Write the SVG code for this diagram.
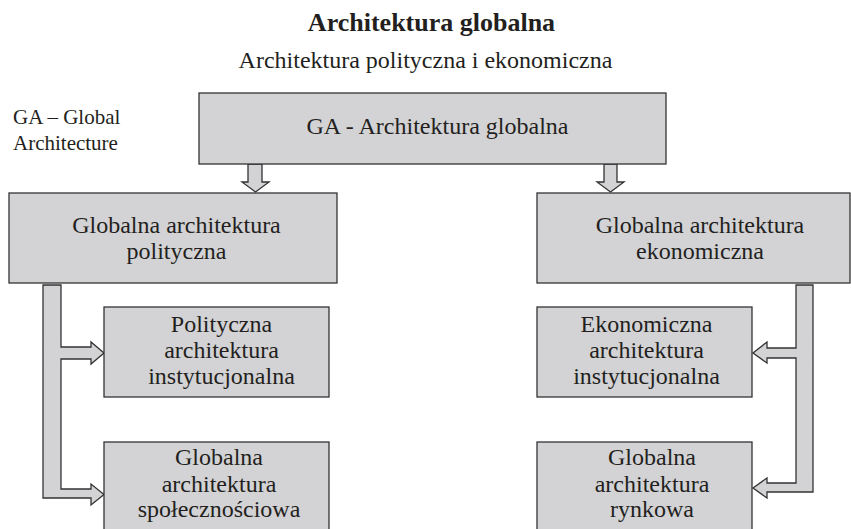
<svg xmlns="http://www.w3.org/2000/svg" width="851" height="529" viewBox="0 0 851 529">
<style>
  .box { fill: #d3d3d5; stroke: #333333; stroke-width: 1.3; }
  .conn { fill: #d3d3d5; stroke: #333333; stroke-width: 1.3; stroke-linejoin: miter; }
  text { font-family: "Liberation Serif", "Times New Roman", serif; fill: #231f20; }
  .t { font-size: 24px; text-anchor: middle; }
  .title { font-size: 26px; font-weight: bold; text-anchor: middle; }
  .sub { font-size: 24px; text-anchor: middle; }
  .note { font-size: 21px; }
</style>
<rect width="851" height="529" fill="#ffffff"/>
<g id="title">
  <text class="title" x="431.5" y="31">Architektura globalna</text>
  <text class="sub" x="425.5" y="68">Architektura polityczna i ekonomiczna</text>
</g>
<g id="legend">
  <text class="note" x="13" y="124">GA – Global</text>
  <text class="note" x="13" y="150">Architecture</text>
</g>
<g id="connectors">
  <polygon class="conn" points="248,164 262,164 262,182 269,182 255.5,192 242,182 248,182"/>
  <polygon class="conn" points="604,164 617,164 617,182 624,182 610.5,192 597,182 604,182"/>
  <polygon class="conn" points="43,285 61,285 61,347 91,347 91,342 104,353 91,364 91,359 61,359 61,489 91,489 91,484 104,494.5 91,505 91,498 43,498"/>
  <polygon class="conn" points="813,285 796,285 796,348 767,348 767,342 753,353 767,363 767,358 796,358 796,483 767,483 767,478 753,488 767,498 767,492 813,492"/>
</g>
<g id="node-ga">
  <rect class="box" x="199" y="93" width="467" height="71"/>
  <text class="t" x="437.5" y="134">GA - Architektura globalna</text>
</g>
<g id="node-gap">
  <rect class="box" x="9" y="193" width="328" height="90"/>
  <text class="t" x="176.5" y="233">Globalna architektura</text>
  <text class="t" x="176.5" y="259">polityczna</text>
</g>
<g id="node-gae">
  <rect class="box" x="537" y="193" width="313" height="90"/>
  <text class="t" x="700" y="233">Globalna architektura</text>
  <text class="t" x="700" y="259">ekonomiczna</text>
</g>
<g id="node-pai">
  <rect class="box" x="104" y="307" width="225" height="90"/>
  <text class="t" x="221.5" y="332">Polityczna</text>
  <text class="t" x="221.5" y="358">architektura</text>
  <text class="t" x="221.5" y="384">instytucjonalna</text>
</g>
<g id="node-gas">
  <rect class="box" x="104" y="442" width="225" height="95"/>
  <text class="t" x="219" y="465">Globalna</text>
  <text class="t" x="219" y="492">architektura</text>
  <text class="t" x="219" y="517">społecznościowa</text>
</g>
<g id="node-eai">
  <rect class="box" x="537" y="307" width="215" height="90"/>
  <text class="t" x="646.5" y="332">Ekonomiczna</text>
  <text class="t" x="646.5" y="358">architektura</text>
  <text class="t" x="646.5" y="384">instytucjonalna</text>
</g>
<g id="node-gar">
  <rect class="box" x="537" y="442" width="215" height="95"/>
  <text class="t" x="652" y="465">Globalna</text>
  <text class="t" x="652" y="492">architektura</text>
  <text class="t" x="652" y="517">rynkowa</text>
</g>
</svg>
